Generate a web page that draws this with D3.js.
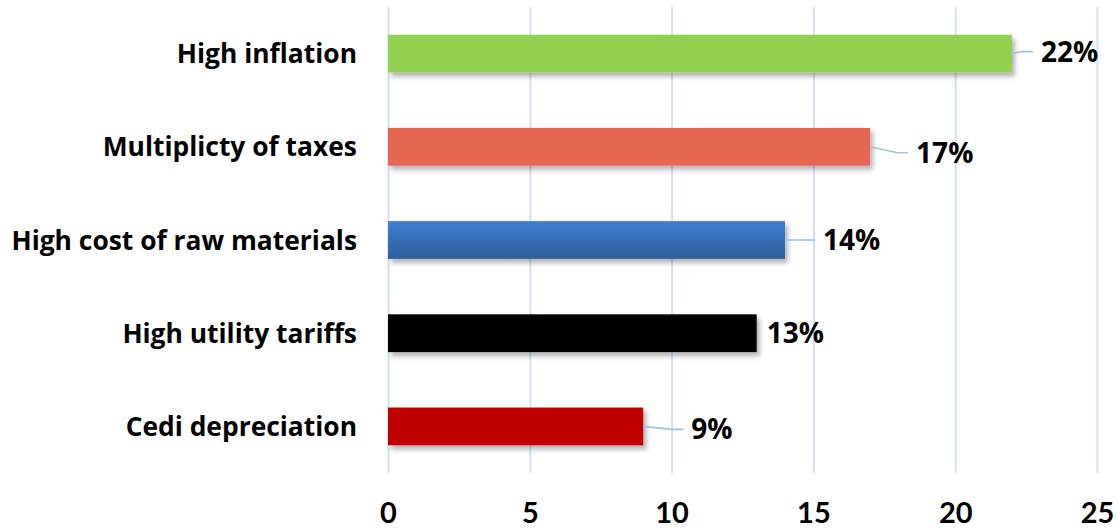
<!DOCTYPE html>
<html>
<head>
<meta charset="utf-8">
<script src="https://cdn.jsdelivr.net/npm/d3@7"></script>
<style>
  html, body { margin: 0; padding: 0; background: #ffffff; }
  svg { display: block; }
  text { font-family: "Open Sans", Lato, "Liberation Sans", sans-serif; font-weight: 700; fill: #000; }
</style>
</head>
<body>
<svg id="chart" width="1117" height="529"></svg>
<script>
// Reported constraints and their share of responses (%)
const categories = [
  "High inflation",
  "Multiplicty of taxes",
  "High cost of raw materials",
  "High utility tariffs",
  "Cedi depreciation"
];
const values = [22, 17, 14, 13, 9];
const valueLabels = ["22%", "17%", "14%", "13%", "9%"];
const xTicks = [0, 5, 10, 15, 20, 25];

// Bar fills, top to bottom
const barFills = ["#92d050", "#e46652", "url(#blueGrad)", "#000000", "#c00000"];
// Manually placed value labels: offset of the label's left edge / centre from the bar end
const labelOffsets = [
  { dx: 29, dy: -2, leader: true },
  { dx: 46, dy: 6, leader: true },
  { dx: 38, dy: 0, leader: true },
  { dx: 10, dy: 0, leader: false },
  { dx: 48, dy: 3, leader: true }
];

const FONT = "'Open Sans', Lato, sans-serif";
const TICK_FONT = "Lato, 'Open Sans', sans-serif";
const svg = d3.select("#chart");
const plot = { left: 388, right: 1097, top: 7, bottom: 473 };

const x = d3.scaleLinear().domain([0, 25]).range([plot.left, plot.right]);
const y = d3.scaleBand()
  .domain(categories)
  .range([plot.top, plot.bottom])
  .paddingInner(0.595)
  .paddingOuter(0.2975);

const defs = svg.append("defs");
const grad = defs.append("linearGradient")
  .attr("id", "blueGrad").attr("x1", 0).attr("y1", 0).attr("x2", 0).attr("y2", 1);
grad.append("stop").attr("offset", "0%").attr("stop-color", "#3e7fd0");
grad.append("stop").attr("offset", "100%").attr("stop-color", "#2d5d9c");

const shadow = defs.append("filter")
  .attr("id", "barShadow").attr("x", "-5%").attr("y", "-30%").attr("width", "115%").attr("height", "180%");
shadow.append("feDropShadow")
  .attr("dx", 3).attr("dy", 4).attr("stdDeviation", 2.5)
  .attr("flood-color", "#000").attr("flood-opacity", 0.3);

// Vertical gridlines
const grid = svg.append("g")
  .attr("transform", `translate(0,${plot.bottom})`)
  .call(d3.axisBottom(x).tickValues(xTicks).tickSize(-(plot.bottom - plot.top)).tickFormat(""));
grid.select(".domain").remove();
grid.selectAll(".tick line").attr("stroke", "#d3e0f2").attr("stroke-width", 2);

// X axis tick labels
const xAxis = svg.append("g")
  .attr("transform", `translate(0,${plot.bottom})`)
  .call(d3.axisBottom(x).tickValues(xTicks).tickSize(0).tickFormat(d3.format("d")));
xAxis.select(".domain").remove();
xAxis.selectAll(".tick text")
  .attr("y", 50).attr("dy", null)
  .style("font-size", "29px")
  .style("font-family", TICK_FONT)
  .style("font-weight", 700)
  .attr("fill", "#000");

// Category labels
const yAxis = svg.append("g")
  .attr("transform", `translate(${plot.left},0)`)
  .call(d3.axisLeft(y).tickSize(0).tickPadding(31));
yAxis.select(".domain").remove();
yAxis.selectAll(".tick text")
  .attr("dy", "0.36em")
  .style("font-size", "26.4px")
  .style("font-family", FONT)
  .style("font-weight", 700)
  .attr("fill", "#000");

// Bars
svg.append("g").selectAll("rect")
  .data(categories)
  .join("rect")
  .attr("x", x(0))
  .attr("y", d => y(d))
  .attr("width", (d, i) => x(values[i]) - x(0))
  .attr("height", y.bandwidth())
  .attr("fill", (d, i) => barFills[i])
  .attr("filter", "url(#barShadow)");

// Leader lines and value labels
const labels = svg.append("g");
categories.forEach((c, i) => {
  const bx = x(values[i]);
  const by = y(c) + y.bandwidth() / 2;
  const off = labelOffsets[i];
  const lx = bx + off.dx;
  const ly = by + off.dy;
  if (off.leader) {
    const end = lx - 8;
    const knee = Math.max(bx, end - 11);
    labels.append("path")
      .attr("d", `M${bx},${by} L${knee},${ly} L${end},${ly}`)
      .attr("fill", "none")
      .attr("stroke", "#9dc3e6")
      .attr("stroke-width", 1.6);
  }
  labels.append("text")
    .attr("x", lx)
    .attr("y", ly)
    .attr("dy", "0.36em")
    .style("font-size", "28px")
    .style("font-family", FONT)
    .text(valueLabels[i]);
});
</script>
</body>
</html>
